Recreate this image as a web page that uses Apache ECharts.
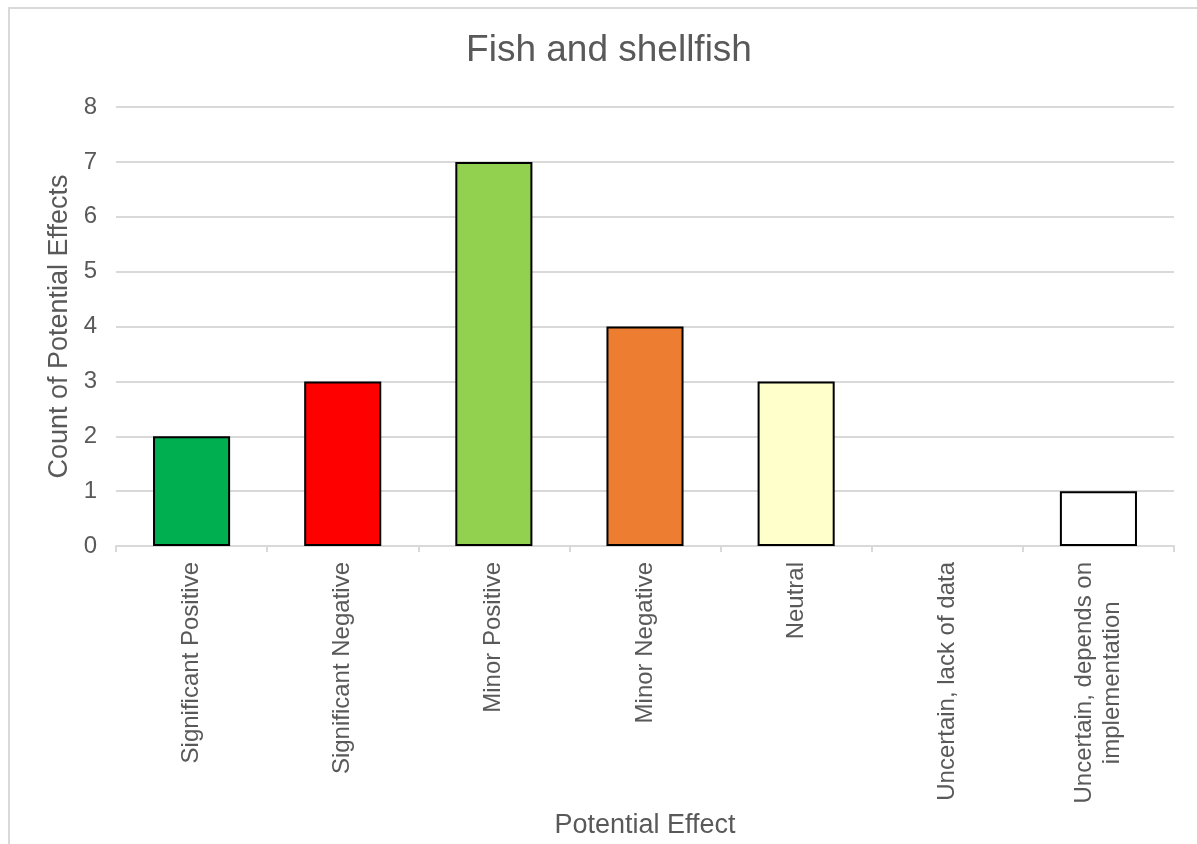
<!DOCTYPE html>
<html>
<head>
<meta charset="utf-8">
<script src="https://cdn.jsdelivr.net/npm/echarts@6/dist/echarts.min.js"></script>
<style>
  html, body { margin: 0; padding: 0; background: #ffffff; }
  #frame { position: absolute; left: 8px; top: 7px; width: 1200px; height: 850px; border: 2px solid #d9d9d9; box-sizing: border-box; }
  #chart { position: absolute; left: 0; top: 0; width: 1197px; height: 844px; }
</style>
</head>
<body>
<div id="frame"></div>
<div id="chart"></div>
<script>
// Effect categories and their counts
const categories = [
  'Significant Positive',
  'Significant Negative',
  'Minor Positive',
  'Minor Negative',
  'Neutral',
  'Uncertain, lack of data',
  'Uncertain, depends on implementation'
];
const counts = [2, 3, 7, 4, 3, 0, 1];
const barColors = ['#00B050', '#FF0000', '#92D050', '#ED7D31', '#FFFFCC', '#FFFFFF', '#FFFFFF'];
const yTicks = [0, 1, 2, 3, 4, 5, 6, 7, 8];

const textColor = '#595959';
const fontFamily = '"Liberation Sans", Arial, sans-serif';

const chart = echarts.init(document.getElementById('chart'), null, { renderer: 'canvas' });

chart.setOption({
  backgroundColor: 'transparent',
  animation: false,
  title: {
    text: 'Fish and shellfish',
    left: 604,
    top: 27,
    textAlign: 'center',
    textStyle: { color: textColor, fontSize: 37, fontWeight: 'normal', fontFamily: fontFamily }
  },
  grid: { left: 116, right: 23, top: 107, bottom: 297, containLabel: false },
  xAxis: {
    type: 'category',
    data: categories,
    name: 'Potential Effect',
    nameLocation: 'middle',
    nameGap: 266,
    nameTextStyle: { color: textColor, fontSize: 27, fontFamily: fontFamily },
    axisLine: { lineStyle: { color: '#d9d9d9', width: 2 } },
    axisTick: { show: true, alignWithLabel: false, length: 6, lineStyle: { color: '#d9d9d9', width: 2 } },
    axisLabel: {
      rotate: 90,
      interval: 0,
      margin: 16,
      color: textColor,
      fontSize: 24,
      fontFamily: fontFamily,
      formatter: function (v) {
        if (v === 'Uncertain, depends on implementation') {
          return '{a|Uncertain, depends on}\n{b|implementation}';
        }
        return v;
      },
      rich: {
        a: { fontSize: 24, color: textColor, fontFamily: fontFamily, lineHeight: 28 },
        b: { fontSize: 24, color: textColor, fontFamily: fontFamily, lineHeight: 28, width: 239, align: 'center' }
      }
    }
  },
  yAxis: {
    type: 'value',
    min: 0,
    max: 8,
    interval: 1,
    name: 'Count of Potential Effects',
    nameLocation: 'middle',
    nameGap: 42,
    nameTextStyle: { color: textColor, fontSize: 27, fontFamily: fontFamily },
    axisLine: { show: false },
    axisTick: { show: false },
    axisLabel: {
      margin: 19,
      color: textColor,
      fontSize: 24,
      fontFamily: fontFamily,
      formatter: function (v) { return yTicks.indexOf(v) >= 0 ? String(v) : ''; }
    },
    splitLine: { lineStyle: { color: '#d9d9d9', width: 2 } }
  },
  series: [{
    type: 'bar',
    data: counts.map(function (v, i) {
      return {
        value: v,
        itemStyle: { color: barColors[i], borderWidth: v === 0 ? 0 : 2 }
      };
    }),
    barWidth: '51%',
    itemStyle: { borderColor: '#000000', borderWidth: 2 }
  }]
});
</script>
</body>
</html>
